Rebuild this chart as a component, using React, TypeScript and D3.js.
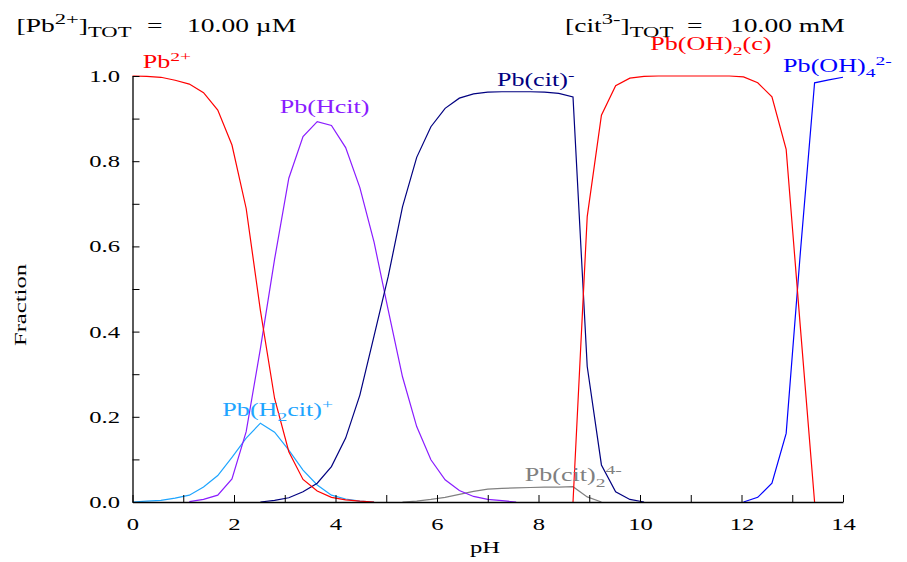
import React, { useEffect, useRef } from "react";
import * as d3 from "d3";

const N = null;

// pH grid of the calculation
const phValues = [
  0, 0.28, 0.56, 0.84, 1.12, 1.4, 1.68, 1.96, 2.24, 2.52, 2.8, 3.08, 3.36, 3.64, 3.92, 4.2, 4.48,
  4.76, 5.04, 5.32, 5.6, 5.88, 6.16, 6.44, 6.72, 7, 7.28, 7.56, 7.84, 8.12, 8.4, 8.68, 8.96, 9.24,
  9.52, 9.8, 10.08, 10.36, 10.64, 10.92, 11.2, 11.48, 11.76, 12.04, 12.32, 12.6, 12.88, 13.16,
  13.44, 13.72, 14,
];

// fractions (null = not drawn)
const pb2 = [
  1.0, 0.999, 0.997, 0.99, 0.981, 0.961, 0.92, 0.838, 0.689, 0.45, 0.243, 0.118, 0.053, 0.026,
  0.011, 0.005, 0.002, 0.0, N, N, N, N, N, N, N, N, N, N, N, N, N, N, N, N, N, N, N, N, N, N, N,
  N, N, N, N, N, N, N, N, N, N,
];
const pbH2cit = [
  0.0, 0.002, 0.004, 0.009, 0.016, 0.035, 0.062, 0.105, 0.15, 0.185, 0.164, 0.122, 0.075, 0.04,
  0.016, 0.007, 0.002, 0.0, N, N, N, N, N, N, N, N, N, N, N, N, N, N, N, N, N, N, N, N, N, N, N,
  N, N, N, N, N, N, N, N, N, N,
];
const pbHcit = [
  N, N, N, N, 0.001, 0.006, 0.016, 0.054, 0.165, 0.36, 0.57, 0.76, 0.858, 0.893, 0.884, 0.832,
  0.738, 0.61, 0.45, 0.294, 0.177, 0.099, 0.052, 0.027, 0.013, 0.006, 0.003, 0.0, N, N, N, N, N,
  N, N, N, N, N, N, N, N, N, N, N, N, N, N, N, N, N, N,
];
const pbCit = [
  N, N, N, N, N, N, N, N, N, 0.0, 0.004, 0.01, 0.024, 0.044, 0.083, 0.15, 0.251, 0.39, 0.53,
  0.693, 0.809, 0.881, 0.924, 0.948, 0.958, 0.962, 0.963, 0.963, 0.963, 0.962, 0.959, 0.951,
  0.318, 0.087, 0.024, 0.006, 0.0, N, N, N, N, N, N, N, N, N, N, N, N, N, N,
];
const pbCit2 = [
  N, N, N, N, N, N, N, N, N, N, N, N, N, N, N, N, N, N, N, 0.0, 0.002, 0.006, 0.011, 0.018,
  0.025, 0.03, 0.032, 0.033, 0.034, 0.035, 0.035, 0.036, 0.012, 0.0, N, N, N, N, N, N, N, N, N,
  N, N, N, N, N, N, N, N,
];
const pbOH2c = [
  N, N, N, N, N, N, N, N, N, N, N, N, N, N, N, N, N, N, N, N, N, N, N, N, N, N, N, N, N, N, N,
  0.0, 0.67, 0.908, 0.977, 0.995, 0.999, 1, 1, 1, 1, 1, 1, 0.998, 0.984, 0.951, 0.828, 0.41, 0.0,
  N, N,
];
const pbOH4 = [
  N, N, N, N, N, N, N, N, N, N, N, N, N, N, N, N, N, N, N, N, N, N, N, N, N, N, N, N, N, N, N,
  N, N, N, N, N, N, N, N, N, N, N, N, 0.0, 0.011, 0.044, 0.161, 0.586, 0.984, 0.991, 0.997,
];

const xTickValues = [0, 1, 2, 3, 4, 5, 6, 7, 8, 9, 10, 11, 12, 13, 14];
const xTickLabels = ["0", "", "2", "", "4", "", "6", "", "8", "", "10", "", "12", "", "14"];
const yTickValues = [0, 0.1, 0.2, 0.3, 0.4, 0.5, 0.6, 0.7, 0.8, 0.9, 1.0];
const yTickLabels = ["0.0", "", "0.2", "", "0.4", "", "0.6", "", "0.8", "", "1.0"];

const series = [
  { values: pbCit2, color: "#808080" },
  { values: pbH2cit, color: "#1ea5ff" },
  { values: pbHcit, color: "#8a1cff" },
  { values: pbCit, color: "#000080" },
  { values: pbOH4, color: "#0000ff" },
  { values: pb2, color: "#ff0000" },
  { values: pbOH2c, color: "#ff0000" },
];

// species labels: text parts, anchor in (pH, fraction)
const labels = [
  { parts: [["Pb"], ["2+", "sup"]], at: [0.2, 1.019], color: "#ff0000" },
  { parts: [["Pb(Hcit)"]], at: [2.9, 0.913], color: "#8a1cff" },
  { parts: [["Pb(cit)"], ["-", "sup"]], at: [7.18, 0.977], color: "#000080" },
  { parts: [["Pb(H"], ["2", "sub"], ["cit)"], ["+", "sup"]], at: [1.77, 0.202], color: "#1ea5ff" },
  { parts: [["Pb(cit)"], ["2", "sub"], ["4-", "sup"]], at: [7.73, 0.049], color: "#808080" },
  { parts: [["Pb(OH)"], ["2", "sub"], ["(c)"]], at: [10.2, 1.062], color: "#ff0000" },
  { parts: [["Pb(OH)"], ["4", "sub"], ["2-", "sup"]], at: [12.82, 1.01], color: "#0000ff" },
];

const FONT = "'Liberation Serif', 'Times New Roman', serif";
const SX = 1.45;

function Rich({ x, y, parts, color, size, subSize = 0.75, rotate = 0, anchor = "start" }) {
  let shift = 0;
  const spans = parts.map((p, k) => {
    const kind = p[1] || "n";
    const target = kind === "sup" ? -0.38 * size : kind === "sub" ? 0.3 * size : 0;
    const dy = target - shift;
    shift = target;
    return (
      <tspan key={k} dy={dy} fontSize={kind === "n" ? size : size * subSize}>
        {p[0]}
      </tspan>
    );
  });
  return (
    <text
      transform={`translate(${x},${y}) rotate(${rotate}) scale(${SX},1)`}
      fill={color}
      fontFamily={FONT}
      fontSize={size}
      textAnchor={anchor}
    >
      {spans}
    </text>
  );
}

export default function App() {
  const width = 907;
  const height = 562;
  const xAxisRef = useRef(null);
  const yAxisRef = useRef(null);

  const x = d3.scaleLinear().domain([0, 14]).range([132.5, 843]);
  const y = d3.scaleLinear().domain([0, 1]).range([502, 76]);

  const line = d3
    .line()
    .defined((d) => d != null)
    .x((d, i) => x(phValues[i]))
    .y((d) => y(d));

  useEffect(() => {
    const gx = d3.select(xAxisRef.current);
    gx.selectAll("*").remove();
    gx.call(
      d3
        .axisBottom(x)
        .tickValues(xTickValues)
        .tickSizeInner(-7)
        .tickSizeOuter(0)
        .tickPadding(16)
        .tickFormat((d, i) => xTickLabels[i])
    );
    gx.attr("font-family", FONT).attr("font-size", 17);
    gx.selectAll(".tick text").attr("transform", `scale(${SX},1)`);
    gx.select(".domain").attr("stroke-width", 1.3);

    const gy = d3.select(yAxisRef.current);
    gy.selectAll("*").remove();
    gy.call(
      d3
        .axisLeft(y)
        .tickValues(yTickValues)
        .tickSizeInner(-7)
        .tickSizeOuter(0)
        .tickPadding(8.6)
        .tickFormat((d, i) => yTickLabels[i])
    );
    gy.attr("font-family", FONT).attr("font-size", 17);
    gy.selectAll(".tick text").attr("transform", `scale(${SX},1)`);
    gy.select(".domain").attr("stroke-width", 1.3);
  }, []);

  return (
    <svg
      width={width}
      height={height}
      style={{ position: "absolute", left: 0, top: 0, background: "#fff" }}
    >
      {series.map((s, k) => (
        <path key={k} d={line(s.values)} fill="none" stroke={s.color} strokeWidth={1.2} />
      ))}

      <g ref={xAxisRef} transform={`translate(0,${y(0)})`} color="#000" />
      <g ref={yAxisRef} transform={`translate(${x(0)},0)`} color="#000" />

      {labels.map((l, k) => (
        <Rich key={k} x={x(l.at[0])} y={y(l.at[1])} parts={l.parts} color={l.color} size={18} />
      ))}

      <Rich x={16.5} y={31.5} parts={[["[Pb"], ["2+", "sup"], ["]"], ["TOT", "sub"]]} color="#000" size={19} subSize={0.82} />
      <Rich x={147} y={31.5} parts={[["="]]} color="#000" size={19} />
      <Rich x={187} y={31.5} parts={[["10.00 \u00b5M"]]} color="#000" size={19} />

      <Rich x={565} y={31.5} parts={[["[cit"], ["3-", "sup"], ["]"], ["TOT", "sub"]]} color="#000" size={19} subSize={0.82} />
      <Rich x={687} y={31.5} parts={[["="]]} color="#000" size={19} />
      <Rich x={730} y={31.5} parts={[["10.00 mM"]]} color="#000" size={19} />

      <Rich x={26} y={305} parts={[["Fraction"]]} color="#000" size={17} rotate={-90} anchor="middle" />
      <Rich x={485} y={553} parts={[["pH"]]} color="#000" size={17} anchor="middle" />
    </svg>
  );
}
